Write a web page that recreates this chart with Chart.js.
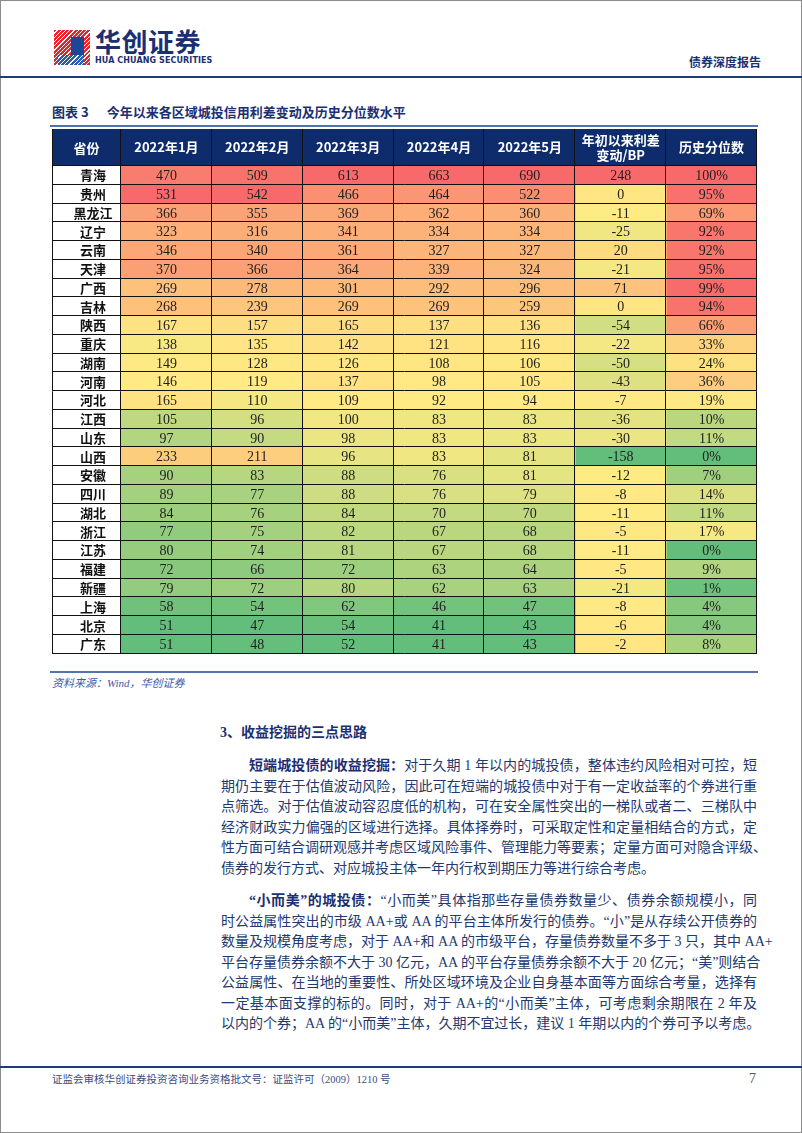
<!DOCTYPE html>
<html lang="zh">
<head>
<meta charset="utf-8">
<script src="https://cdn.jsdelivr.net/npm/chart.js@4.4.1/dist/chart.umd.min.js"></script>
<style>
  html, body { margin: 0; padding: 0; background: #fff; }
  body { width: 802px; height: 1133px; position: relative; overflow: hidden;
         font-family: "Liberation Serif", "Noto Sans CJK SC", serif; color: #23386e; }
  .abs { position: absolute; }
  .frame { left: 0; top: 0; width: 800px; height: 1131px; border: 1px solid #8c8c8c; }
  .cube { left: 54px; top: 30px; width: 36px; height: 35px;
          background: repeating-linear-gradient(135deg, #e3262d 0 2px, #fff 2px 3px); }
  .cube .face { position: absolute; left: 17px; top: 7px; width: 13px; height: 20px; background: #1d4796; }
  .cube .low { position: absolute; left: 4px; top: 25px; width: 26px; height: 10px;
               background: repeating-linear-gradient(135deg, #2d5bb0 0 2px, #fff 2px 3px); }
  .brand { left: 95px; top: 26px; font: bold 26px/30px "Noto Sans CJK SC", sans-serif; color: #1b2f72; letter-spacing: 0.5px; }
  .brand-en { left: 95px; top: 56px; font: bold 8px/9px "DejaVu Sans", sans-serif; color: #1b2f72; letter-spacing: 0.1px; }
  .kind { left: 689px; top: 54px; font: bold 12px/16px "Noto Sans CJK SC", sans-serif; color: #1b2f72; }
  .rule { left: 0; width: 802px; height: 2px; background: #1c3b78; }
  .title { left: 52px; top: 103px; font: bold 13px/18px "Noto Sans CJK SC", sans-serif; color: #1b2f72; }
  .title span { margin-left: 18px; }
  .tline { left: 50px; width: 708px; height: 2px; background: #5472ad; }
  #wrap { left: 52px; top: 129px; width: 705px; height: 541px; }
  .source { left: 52px; top: 676px; font: italic 11px/14px "Liberation Serif", "Noto Sans CJK SC", serif; color: #3d5ca6; }
  .head { left: 220px; top: 724px; font: bold 14px/18px "Liberation Serif", "Noto Sans CJK SC", serif; color: #1b2f72; }
  .para { left: 221px; width: 536px; font-size: 14px; line-height: 20.5px; }
  .para div { text-align: justify; text-align-last: justify; white-space: nowrap; }
  .para div.last { text-align-last: left; }
  .para div.first { padding-left: 28px; }
  .para b { color: #1b2f72; }
  .foot { left: 52px; top: 1073px; font: 10.5px/14px "Liberation Serif", "Noto Sans CJK SC", serif; color: #3a4c80; }
  .page { left: 749px; top: 1071px; font: 14px/16px "Liberation Serif", serif; color: #555; }
</style>
</head>
<body>
<div class="abs frame"></div>
<div class="abs cube"><div class="face"></div><div class="low"></div></div>
<div class="abs brand">华创证券</div>
<div class="abs brand-en">HUA CHUANG SECURITIES</div>
<div class="abs kind">债券深度报告</div>
<div class="abs rule" style="top:76px"></div>
<div class="abs title">图表 3<span>今年以来各区域城投信用利差变动及历史分位数水平</span></div>
<div class="abs tline" style="top:125px"></div>
<div class="abs" id="wrap"><canvas id="heatChart"></canvas></div>
<div class="abs tline" style="top:671px"></div>
<div class="abs source">资料来源：Wind，华创证券</div>

<div class="abs head">3、收益挖掘的三点思路</div>
<div class="abs para" style="top:756px">
  <div class="first"><b>短端城投债的收益挖掘：</b>对于久期 1 年以内的城投债，整体违约风险相对可控，短</div>
  <div>期仍主要在于估值波动风险，因此可在短端的城投债中对于有一定收益率的个券进行重</div>
  <div>点筛选。对于估值波动容忍度低的机构，可在安全属性突出的一梯队或者二、三梯队中</div>
  <div>经济财政实力偏强的区域进行选择。具体择券时，可采取定性和定量相结合的方式，定</div>
  <div>性方面可结合调研观感并考虑区域风险事件、管理能力等要素；定量方面可对隐含评级、</div>
  <div class="last">债券的发行方式、对应城投主体一年内行权到期压力等进行综合考虑。</div>
</div>
<div class="abs para" style="top:891px">
  <div class="first"><b>“小而美”的城投债：</b>“小而美”具体指那些存量债券数量少、债券余额规模小，同</div>
  <div>时公益属性突出的市级 AA+或 AA 的平台主体所发行的债券。“小”是从存续公开债券的</div>
  <div>数量及规模角度考虑，对于 AA+和 AA 的市级平台，存量债券数量不多于 3 只，其中 AA+</div>
  <div>平台存量债券余额不大于 30 亿元，AA 的平台存量债券余额不大于 20 亿元；“美”则结合</div>
  <div>公益属性、在当地的重要性、所处区域环境及企业自身基本面等方面综合考量，选择有</div>
  <div>一定基本面支撑的标的。同时，对于 AA+的“小而美”主体，可考虑剩余期限在 2 年及</div>
  <div class="last">以内的个券；AA 的“小而美”主体，久期不宜过长，建议 1 年期以内的个券可予以考虑。</div>
</div>

<div class="abs rule" style="top:1066px"></div>
<div class="abs foot">证监会审核华创证券投资咨询业务资格批文号：证监许可（2009）1210 号</div>
<div class="abs page">7</div>

<script>
const provinces = ['青海', '贵州', '黑龙江', '辽宁', '云南', '天津', '广西', '吉林', '陕西', '重庆', '湖南', '河南', '河北',
  '江西', '山东', '山西', '安徽', '四川', '湖北', '浙江', '江苏', '福建', '新疆', '上海', '北京', '广东'];
const jan = [470, 531, 366, 323, 346, 370, 269, 268, 167, 138, 149, 146, 165, 105, 97, 233, 90, 89, 84, 77, 80, 72, 79, 58, 51, 51];
const feb = [509, 542, 355, 316, 340, 366, 278, 239, 157, 135, 128, 119, 110, 96, 90, 211, 83, 77, 76, 75, 74, 66, 72, 54, 47, 48];
const mar = [613, 466, 369, 341, 361, 364, 301, 269, 165, 142, 126, 137, 109, 100, 98, 96, 88, 88, 84, 82, 81, 72, 80, 62, 54, 52];
const apr = [663, 464, 362, 334, 327, 339, 292, 269, 137, 121, 108, 98, 92, 83, 83, 83, 76, 76, 70, 67, 67, 63, 62, 46, 41, 41];
const may = [690, 522, 360, 334, 327, 324, 296, 259, 136, 116, 106, 105, 94, 83, 83, 81, 81, 79, 70, 68, 68, 64, 63, 47, 43, 43];
const ytdChange = [248, 0, -11, -25, 20, -21, 71, 0, -54, -22, -50, -43, -7, -36, -30, -158, -12, -8, -11, -5, -11, -5, -21, -8, -6, -2];
const histPct = [100, 95, 69, 92, 92, 95, 99, 94, 66, 33, 24, 36, 19, 10, 11, 0, 7, 14, 11, 17, 0, 9, 1, 4, 4, 8];
const cornerLabel = '省份';
const headerLabels = ['2022年1月', '2022年2月', '2022年3月', '2022年4月', '2022年5月', ['年初以来利差', '变动/BP'], '历史分位数'];

const columns = [jan, feb, mar, apr, may, ytdChange, histPct];
const NAVY = '#0e2c6c';
const GREEN = [99, 190, 123], YELLOW = [255, 235, 132], RED = [248, 105, 107];

// excel style 3-colour scale: min green, median yellow, max red
function colourScale(values) {
  const s = [...values].sort((a, b) => a - b);
  const min = s[0], max = s[s.length - 1];
  const p = (s.length - 1) / 2, lo = Math.floor(p);
  const mid = s[lo] + (s[Math.ceil(p)] - s[lo]) * (p - lo);
  return v => {
    let a, b, t;
    if (v <= mid) { a = GREEN; b = YELLOW; t = mid > min ? (v - min) / (mid - min) : 1; }
    else { a = YELLOW; b = RED; t = max > mid ? (v - mid) / (max - mid) : 0; }
    const c = a.map((x, i) => Math.round(x + (b[i] - x) * t));
    return 'rgb(' + c.join(',') + ')';
  };
}

const tableDecor = {
  id: 'tableDecor',
  beforeDraw(chart) {
    const { ctx, chartArea } = chart;
    ctx.save();
    ctx.fillStyle = NAVY;
    ctx.fillRect(0, 0, chart.width, chartArea.top);
    ctx.fillStyle = '#fff';
    ctx.font = 'bold 13px "Noto Sans CJK SC"';
    ctx.textAlign = 'center';
    ctx.textBaseline = 'middle';
    ctx.fillText(cornerLabel, chartArea.left / 2, chartArea.top / 2 + 0.5);
    ctx.restore();
  },
  afterDatasetsDraw(chart) {
    const { ctx, chartArea } = chart;
    const x = chart.scales.x;
    ctx.save();
    ctx.font = '14px "Liberation Serif"';
    ctx.fillStyle = '#1e1e1e';
    ctx.textAlign = 'center';
    ctx.textBaseline = 'middle';
    chart.data.datasets.forEach((ds, d) => {
      chart.getDatasetMeta(d).data.forEach((bar, i) => {
        const c = bar.getCenterPoint();
        const v = ds.values[i];
        ctx.fillText(d === 6 ? v + '%' : String(v), c.x, c.y + 1);
      });
    });

    ctx.strokeStyle = '#111';
    ctx.lineWidth = 1;
    ctx.beginPath();
    const rowH = (chartArea.bottom - chartArea.top) / provinces.length;
    for (let k = 0; k <= provinces.length; k++) {
      const py = Math.round(chartArea.top + k * rowH) - 0.5;
      ctx.moveTo(0, py); ctx.lineTo(chartArea.right, py);
    }
    ctx.moveTo(0.5, 0); ctx.lineTo(0.5, chartArea.bottom);
    for (let c = 0; c <= columns.length; c++) {
      const px = Math.round(x.getPixelForValue(c)) - 0.5;
      ctx.moveTo(px, 0); ctx.lineTo(px, chartArea.bottom);
    }
    ctx.stroke();
    ctx.restore();
  }
};

new Chart(document.getElementById('heatChart'), {
  type: 'bar',
  data: {
    labels: provinces,
    datasets: columns.map((vals, c) => {
      const colourOf = colourScale(vals);
      return {
        label: Array.isArray(headerLabels[c]) ? headerLabels[c].join('') : headerLabels[c],
        data: vals.map(() => [c, c + 1]),
        values: vals,
        backgroundColor: vals.map(colourOf),
        borderWidth: 0,
        barPercentage: 1,
        categoryPercentage: 1,
        grouped: false
      };
    })
  },
  options: {
    indexAxis: 'y',
    responsive: true,
    maintainAspectRatio: false,
    animation: false,
    layout: { padding: 0 },
    plugins: { legend: { display: false }, tooltip: { enabled: false } },
    scales: {
      x: {
        type: 'linear', position: 'top', min: 0, max: columns.length,
        afterBuildTicks: s => { s.ticks = headerLabels.map((_, i) => ({ value: i + 0.5 })); },
        afterFit: s => { s.height = 37; },
        ticks: {
          color: '#fff', autoSkip: false, maxRotation: 0, crossAlign: 'center', padding: 11,
          font: { family: 'Noto Sans CJK SC', size: 13, weight: 'bold', lineHeight: '15px' },
          callback: (v, i) => headerLabels[i]
        },
        grid: { display: false, drawTicks: false },
        border: { display: false }
      },
      y: {
        afterFit: s => { s.width = 69; },
        ticks: {
          color: '#111', autoSkip: false, crossAlign: 'center', padding: 8.5,
          font: { family: 'Noto Sans CJK SC', size: 13, weight: 'bold' }
        },
        grid: { display: false, drawTicks: false },
        border: { display: false }
      }
    }
  },
  plugins: [tableDecor]
});
</script>
</body>
</html>
